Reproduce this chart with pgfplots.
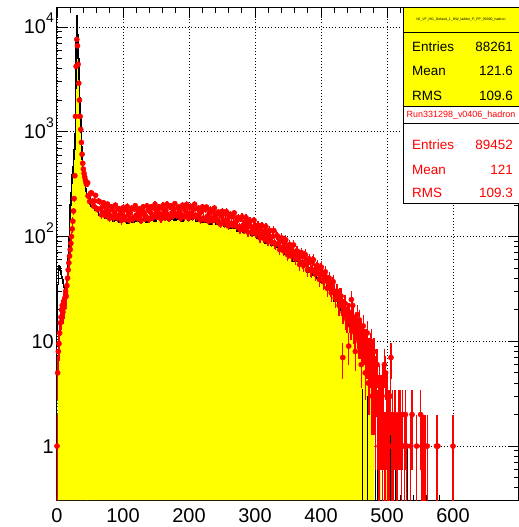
\documentclass[border=0pt]{standalone}
\usepackage{fontspec}
\setmainfont{Liberation Sans}
\usepackage{pgfplots}
\pgfplotsset{compat=1.18}
\usepackage{pgfplotstable}
\definecolor{rootyellow}{RGB}{255,255,0}
\definecolor{rootred}{RGB}{255,0,0}
\newcommand\sups[1]{\raisebox{11bp}{\fontsize{14}{14}\selectfont #1}}
\newcommand\stat{\fontsize{13.5}{16}\selectfont}

\pgfplotstableread{
x h r f
0 12 1 1
1 35 5 5
2 48 8 8
3 53 9.5 9
4 51 12 11
5 47 15 14
6 44 17 16
7 41 20 18
8 39 22 20
9 36 19 18
10 33 24 22
11 31 21 20
12 29 26 24
13 27 30 26
14 27 27 25
15 31 34 30
16 42 40 38
17 65 48 48
18 100 56 62
19 145 65 90
20 200 75 140
21 260 86 260
22 320 100 320
23 390 118 390
24 460 140 460
25 540 175 540
26 680 230 680
27 950 380 950
28 2600 1400 2600
29 7500 4200 7500
30 12800 7600 12800
31 8500 6600 8500
32 5000 4400 5000
33 3200 2900 3200
34 2100 2000 2100
35 1400 1400 1400
36 980 1050 980
37 720 790 720
38 550 610 550
39 450 500 450
40 380 440 380
41 335 400 335
42 305 370 305
43 285 345 285
44 270 325 270
45 253 315 253
47 234 244 234
}\lowdata

\pgfplotstableread{
x h r
45 253 315
48 234 244
51 196 259
54 205 218
57 178 218
60 180 185
63 160 218
66 173 184
69 160 193
72 150 171
75 164 190
78 146 173
81 152 158
84 139 180
87 142 171
90 150 160
93 137 182
96 152 162
99 139 174
102 146 154
105 134 179
108 150 161
111 143 169
114 137 150
117 153 183
120 139 160
123 148 174
126 137 158
129 142 180
132 151 167
135 138 155
138 155 180
141 142 172
144 150 162
147 139 187
150 155 167
153 148 181
156 143 161
159 160 188
162 145 169
165 155 178
168 143 157
171 147 193
174 157 168
177 143 182
180 160 165
183 146 187
186 154 173
189 141 161
192 158 185
195 150 176
198 144 165
201 160 189
204 145 168
207 153 181
210 141 160
213 144 184
216 152 165
219 138 172
222 152 150
225 138 182
228 144 157
231 131 169
234 145 151
237 137 171
240 130 156
243 144 144
246 129 164
249 136 155
252 124 144
255 126 164
258 133 144
261 120 154
264 132 134
267 119 154
270 124 137
273 113 142
276 124 124
279 117 149
282 110 128
285 121 137
288 108 122
291 113 136
294 102 124
297 103 113
300 107 127
303 96 119
306 105 109
309 94 123
312 97 107
315 87 113
318 95 98
321 89 111
324 83 97
327 90 100
330 79 86
333 82 102
336 73 86
339 73 90
342 75 79
345 67 87
348 72 78
351 64 70
354 65 78
357 58 72
360 62 66
363 58 73
366 53 63
369 58 66
372 51 57
375 52 64
378 46 55
381 50 57
384 46 48
387 43 57
390 46 48
393 40 50
396 42 44
399 37 49
402 37 43
405 37 38
408 32 41
411 33 37
414 29 32
417 28 35
420 24 29
423 25 30
426 23 25
429 20 27
432 21 22
435 18 21
438 17 17
441 14 19
444 15 16
447 13 16
450 12 13
453 12 14
456 10 12
459 10 10
462 9 11
465 8 9
468 7 10
471 6 7
474 5 8
477 4 6
480 3 5
481 2 3
}\maindata

\pgfplotstableread{
x r
46.5 326
49.5 216
52.5 260
55.5 195
58.5 247
61.5 181
64.5 215
67.5 161
70.5 210
73.5 158
76.5 204
79.5 149
82.5 192
85.5 151
88.5 199
91.5 151
94.5 184
97.5 142
100.5 189
103.5 146
106.5 193
109.5 143
112.5 186
115.5 148
118.5 197
121.5 150
124.5 184
127.5 143
130.5 192
133.5 149
136.5 196
139.5 146
142.5 191
145.5 152
148.5 203
151.5 155
154.5 190
157.5 147
160.5 198
163.5 154
166.5 203
169.5 150
172.5 196
175.5 156
178.5 206
181.5 158
184.5 192
187.5 149
190.5 199
193.5 154
196.5 202
199.5 150
202.5 194
205.5 154
208.5 203
211.5 154
214.5 187
217.5 144
220.5 192
223.5 146
226.5 191
229.5 140
232.5 181
235.5 142
238.5 187
241.5 142
244.5 171
247.5 131
250.5 174
253.5 133
256.5 173
259.5 126
262.5 163
265.5 128
268.5 168
271.5 126
274.5 152
277.5 116
280.5 154
283.5 117
286.5 151
289.5 110
292.5 141
295.5 110
298.5 143
301.5 107
304.5 128
307.5 97
310.5 127
313.5 96
316.5 124
319.5 90
322.5 114
325.5 88
328.5 114
331.5 84
334.5 100
337.5 75
340.5 97
343.5 73
346.5 93
349.5 67
352.5 84
355.5 65
358.5 83
361.5 61
364.5 72
367.5 54
370.5 70
373.5 53
376.5 67
379.5 48
382.5 61
385.5 47
388.5 60
391.5 44
394.5 53
397.5 39
400.5 51
403.5 37
406.5 46
409.5 32
412.5 40
415.5 29
418.5 37
421.5 26
424.5 30
427.5 22
430.5 27
433.5 19
436.5 23
439.5 16
442.5 19
445.5 14
448.5 17
451.5 12
454.5 14
457.5 10
460.5 12
463.5 9
466.5 10
469.5 7
472.5 8
475.5 6
478.5 7
}\interdata

\pgfplotstableread{
x r
433 7
442 9
446 25
448 22
452 8
455 18
458 16
461 6
464 14
467 5
470 12
471.5 4
473 4
474.5 9
476 10
477.5 3
479 3
480.5 8
482 5
483 2
484 4
485 6
486 2
487 3
488 1
489 4
490 2
491 3
492 2
493 1
494 4
495 2
496 6
497 1
498 5
499 2
500 3
501 1
502 2
503 1
504 2
505 3
506 7
507 1
508 2
509 1
510 1
512 2
514 1
516 1
518 2
520 2
522 1
524 2
526 1
528 2
530 1
536 1
538 2
545 1
551 2
553 1
556 1
558 1
561 1
575 1
577 1
600 1
}\taildata

\pgfplotsset{
  redpts/.style={rootred, only marks, mark=*, mark size=2.6bp,
    mark options={fill=rootred, draw=rootred},
    error bars/.cd, y dir=both, y explicit, error mark=none,
    error bar style={rootred, line width=1.3bp}},
}

\begin{document}
\begin{tikzpicture}
\useasboundingbox (-57bp,-27bp) rectangle (462bp,500bp);
\begin{axis}[
  at={(0,0)}, anchor=south west, scale only axis,
  width=462bp, height=492bp,
  xmin=0, xmax=700, ymin=0.306, ymax=15150, ymode=log,
  log origin y=infty,
  xtick={0,100,200,300,400,500,600},
  xticklabels={0,100,200,300,400,500,600},
  minor x tick num=4,
  ytick={1,10,100,1000,10000},
  yticklabels={1,10,10\sups{2},10\sups{3},10\sups{4}},
  minor ytick={0.4,0.5,0.6,0.7,0.8,0.9,2,3,4,5,6,7,8,9,20,30,40,50,60,70,80,90,200,300,400,500,600,700,800,900,2000,3000,4000,5000,6000,7000,8000,9000},
  tick pos=both,
  tick align=inside,
  major tick length=10bp, minor tick length=5bp,
  every tick/.style={black, line width=0.8bp},
  axis line style={black, line width=1bp},
  grid=major,
  major grid style={black, line width=0.8bp, dash pattern=on 0.8bp off 2.4bp},
  ticklabel style={font=\fontsize{20}{24}\selectfont},
  xticklabel style={inner sep=0pt, anchor=north, yshift=-8bp},
  yticklabel style={inner sep=0pt, anchor=base east, xshift=-3bp, yshift=-7bp},
]
% yellow filled histogram
\addplot[fill=rootyellow, draw=none, const plot] table[x=x,y=f]{\lowdata} \closedcycle;
\addplot[fill=rootyellow, draw=none, const plot] table[x=x,y=h]{\maindata} \closedcycle;
\addplot[ycomb, rootyellow, line width=2bp] coordinates {(490,0.58) (499,0.58)};
% black outline
\addplot[black, line width=1.5bp, const plot] table[x=x,y=h]{\lowdata};
\addplot[black, line width=1.5bp, const plot] table[x=x,y=h]{\maindata};
\addplot[ycomb, black, line width=1.2bp] coordinates {(463,3.5) (470,3) (483,2) (486,1) (489,2) (493,0.6) (503,1) (506,2) (508,1) (513,1) (516,1) (531,1) (553,2) (558,2) (601,0.42)};
% red points
\addplot[redpts] table[x=x, y=r, y error plus expr={sqrt(\thisrow{r})}, y error minus expr={min(sqrt(\thisrow{r}),0.9*\thisrow{r})}]{\lowdata};
\addplot[redpts] table[x=x, y=r, y error plus expr={sqrt(\thisrow{r})}, y error minus expr={min(sqrt(\thisrow{r}),0.9*\thisrow{r})}]{\maindata};
\addplot[redpts] table[x=x, y=r, y error plus expr={sqrt(\thisrow{r})}, y error minus expr={min(sqrt(\thisrow{r}),0.9*\thisrow{r})}]{\interdata};
\addplot[redpts] table[x=x, y=r, y error plus expr={sqrt(\thisrow{r})}, y error minus expr={min(sqrt(\thisrow{r}),0.9*\thisrow{r})}]{\taildata};
\end{axis}
% stats box 1
\fill[rootyellow] (346bp,393bp) rectangle (462bp,492bp);
\draw[line width=1bp] (346bp,393bp) rectangle (462bp,492bp);
\draw[line width=1bp] (346bp,467bp) -- (462bp,467bp);
\node[font=\fontsize{3.5}{4}\selectfont] at (404bp,480bp) {h0\_VF\_HG\_Default\_1\_HW\_ladder\_P\_PP\_00000\_hadron};
\node[anchor=west, font=\stat, inner sep=0pt] at (355bp,453bp) {Entries};
\node[anchor=east, font=\stat, inner sep=0pt] at (456bp,453bp) {88261};
\node[anchor=west, font=\stat, inner sep=0pt] at (355bp,429bp) {Mean};
\node[anchor=east, font=\stat, inner sep=0pt] at (456bp,429bp) {121.6};
\node[anchor=west, font=\stat, inner sep=0pt] at (355bp,404bp) {RMS};
\node[anchor=east, font=\stat, inner sep=0pt] at (456bp,404bp) {109.6};
% stats box 2
\fill[white] (346bp,296bp) rectangle (462bp,393bp);
\draw[line width=1bp] (346bp,296bp) rectangle (462bp,393bp);
\draw[line width=1bp] (346bp,376bp) -- (462bp,376bp);
\node[rootred, font=\fontsize{9}{10}\selectfont, inner sep=0pt] at (404bp,384.5bp) {Run331298\_v0406\_hadron};
\node[rootred, anchor=west, font=\stat, inner sep=0pt] at (355bp,355bp) {Entries};
\node[rootred, anchor=east, font=\stat, inner sep=0pt] at (456bp,355bp) {89452};
\node[rootred, anchor=west, font=\stat, inner sep=0pt] at (355bp,330bp) {Mean};
\node[rootred, anchor=east, font=\stat, inner sep=0pt] at (456bp,330bp) {121};
\node[rootred, anchor=west, font=\stat, inner sep=0pt] at (355bp,307bp) {RMS};
\node[rootred, anchor=east, font=\stat, inner sep=0pt] at (456bp,307bp) {109.3};
\end{tikzpicture}
\end{document}
